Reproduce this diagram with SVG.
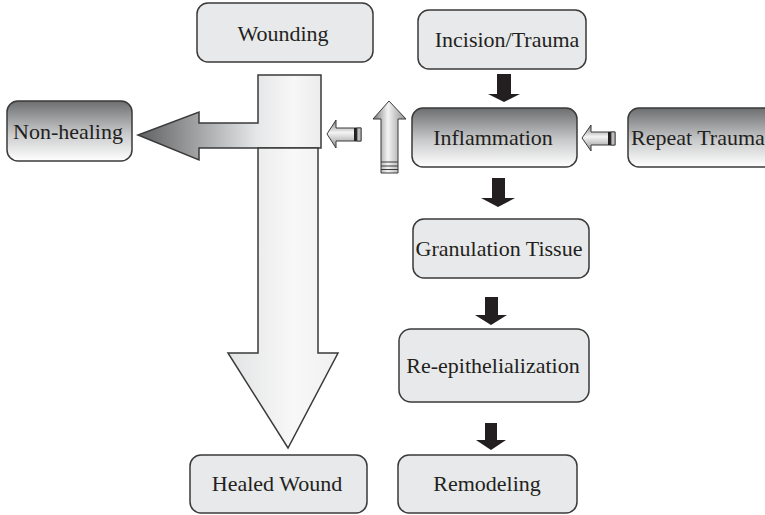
<svg xmlns="http://www.w3.org/2000/svg" width="765" height="515" viewBox="0 0 765 515">
  <defs>
    <linearGradient id="boxShade" x1="0" y1="0" x2="0" y2="1">
      <stop offset="0" stop-color="#6d6e70"/>
      <stop offset="0.55" stop-color="#c9cacb"/>
      <stop offset="1" stop-color="#ffffff"/>
    </linearGradient>
    <linearGradient id="armShade" gradientUnits="userSpaceOnUse" x1="138" y1="0" x2="321" y2="0">
      <stop offset="0" stop-color="#5f6062"/>
      <stop offset="0.35" stop-color="#a7a8aa"/>
      <stop offset="0.65" stop-color="#e6e7e8"/>
      <stop offset="0.85" stop-color="#f7f7f7"/>
      <stop offset="1" stop-color="#ececec"/>
    </linearGradient>
    <linearGradient id="shaftShade" x1="0" y1="0" x2="1" y2="0">
      <stop offset="0" stop-color="#e2e3e4"/>
      <stop offset="0.6" stop-color="#f8f8f8"/>
      <stop offset="1" stop-color="#f0f0f0"/>
    </linearGradient>
    <linearGradient id="tubeH" x1="0" y1="0" x2="0" y2="1">
      <stop offset="0" stop-color="#7a7b7d"/>
      <stop offset="0.45" stop-color="#f4f4f4"/>
      <stop offset="1" stop-color="#8d8e90"/>
    </linearGradient>
    <linearGradient id="tubeV" x1="0" y1="0" x2="1" y2="0">
      <stop offset="0" stop-color="#6f7072"/>
      <stop offset="0.45" stop-color="#f4f4f4"/>
      <stop offset="1" stop-color="#8d8e90"/>
    </linearGradient>
    <style>
      .box { fill: #e8e9ea; stroke: #3a3a3a; stroke-width: 1.5; }
      .shade { fill: url(#boxShade); stroke: #3a3a3a; stroke-width: 1.5; }
      .lbl { font-family: "Liberation Serif", "Times New Roman", serif; font-size: 22px; fill: #231f20; text-anchor: middle; }
      .solid { fill: #231f20; }
      .outline { stroke: #3a3a3a; stroke-width: 1.5; stroke-linejoin: miter; }
      .thin { stroke: #3a3a3a; stroke-width: 1; }
    </style>
  </defs>

  <!-- connectors -->
  <g id="connectors">
    <!-- main path: wounding splits to non-healing (left) and healed wound (down) -->
    <path class="outline" fill="url(#armShade)" d="M321,75 L258,75 L258,123 L199,123 L199,112 L138,135 L199,160 L199,148 L321,148 Z"/>
    <path class="outline" fill="url(#shaftShade)" d="M258,148 L318,148 L318,353 L338,353 L288,448 L228,353 L258,353 Z"/>

    <!-- solid step arrows down the right column -->
    <path class="solid" d="M497,74 L511,74 L511,94 L520,94 L504,102 L488,94 L497,94 Z"/>
    <path class="solid" d="M492,178 L505,178 L505,198 L515,198 L498,207 L481,198 L492,198 Z"/>
    <path class="solid" d="M485,297 L498,297 L498,315 L507,315 L491,325 L475,315 L485,315 Z"/>
    <path class="solid" d="M485,423 L497,423 L497,440 L506,440 L491,450 L476,440 L485,440 Z"/>

    <!-- inflammation feeding back to the main path -->
    <g id="feedback-left">
      <path class="thin" fill="url(#tubeH)" d="M327,134 L336,120 L336,128 L361,128 L361,141 L336,141 L336,148 Z"/>
      <rect x="354" y="128" width="3" height="13" fill="#231f20"/>
      <rect x="357" y="128" width="4" height="13" fill="#bcbdbf" stroke="#3a3a3a" stroke-width="0.8"/>
    </g>
    <g id="feedback-up">
      <path class="thin" fill="url(#tubeV)" d="M389,101 L406,119 L398,119 L398,173 L381,173 L381,119 L373,119 Z"/>
      <line x1="381" y1="162" x2="398" y2="162" stroke="#3a3a3a" stroke-width="1"/>
      <line x1="381" y1="166" x2="398" y2="166" stroke="#3a3a3a" stroke-width="1"/>
      <line x1="381" y1="169.5" x2="398" y2="169.5" stroke="#3a3a3a" stroke-width="1"/>
    </g>
    <!-- repeat trauma into inflammation -->
    <g id="repeat-in">
      <path class="thin" fill="url(#tubeH)" d="M582,138 L591,125 L591,132 L615,132 L615,145 L591,145 L591,151 Z"/>
      <rect x="608" y="132" width="3" height="13" fill="#231f20"/>
      <rect x="611" y="132" width="4" height="13" fill="#bcbdbf" stroke="#3a3a3a" stroke-width="0.8"/>
    </g>
  </g>

  <!-- nodes -->
  <g id="wounding">
    <rect class="box" x="197" y="3" width="176" height="59" rx="11"/>
    <text class="lbl" x="283" y="41">Wounding</text>
  </g>
  <g id="incision">
    <rect class="box" x="418" y="10" width="168" height="59" rx="11"/>
    <text class="lbl" x="507" y="47">Incision/Trauma</text>
  </g>
  <g id="non-healing">
    <rect class="shade" x="7" y="101" width="125" height="60" rx="11"/>
    <text class="lbl" x="68" y="139">Non-healing</text>
  </g>
  <g id="inflammation">
    <rect class="shade" x="412" y="108" width="165" height="59" rx="11"/>
    <text class="lbl" x="493" y="145">Inflammation</text>
  </g>
  <g id="repeat-trauma">
    <rect class="shade" x="628" y="108" width="170" height="59" rx="11"/>
    <text class="lbl" x="631" y="145" style="text-anchor:start">Repeat Trauma</text>
  </g>
  <g id="granulation">
    <rect class="box" x="413" y="219" width="176" height="59" rx="11"/>
    <text class="lbl" x="499" y="256">Granulation Tissue</text>
  </g>
  <g id="re-epithelialization">
    <rect class="box" x="399" y="329" width="190" height="73" rx="12"/>
    <text class="lbl" x="493" y="373">Re-epithelialization</text>
  </g>
  <g id="healed-wound">
    <rect class="box" x="190" y="455" width="177" height="58" rx="11"/>
    <text class="lbl" x="277" y="491">Healed Wound</text>
  </g>
  <g id="remodeling">
    <rect class="box" x="398" y="455" width="179" height="58" rx="11"/>
    <text class="lbl" x="487" y="491">Remodeling</text>
  </g>
</svg>
